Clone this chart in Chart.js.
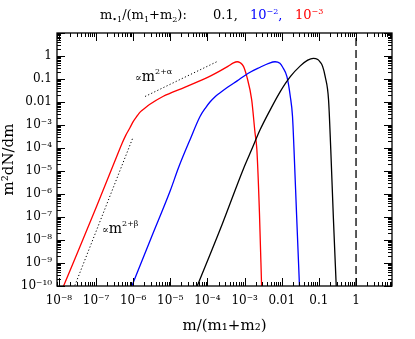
<!DOCTYPE html>
<html>
<head>
<meta charset="utf-8">
<script src="https://cdn.jsdelivr.net/npm/chart.js@4/dist/chart.umd.min.js"></script>
<style>
  body { margin: 0; background: #fff; }
  canvas { display: block; }
</style>
</head>
<body>
<canvas id="massChart" width="415" height="339"></canvas>
<script>
// Data: m/(m1+m2) and m^2 dN/dm
const redM = [1.26e-8, 3.16e-8, 1e-7, 3.16e-7, 5.01e-7, 6.31e-7, 8.13e-7, 1e-6, 1.26e-6, 1.58e-6, 2.09e-6, 2.82e-6,
  6.31e-6, 2.51e-5, 1.26e-4, 3.55e-4, 5.01e-4, 6.31e-4, 7.59e-4, 9.33e-4, 1.15e-3, 1.55e-3, 1.91e-3, 2.14e-3,
  2.51e-3, 2.88e-3];
const redY = [7.94e-11, 2.82e-9, 2.51e-7, 2.51e-5, 1.58e-4, 3.55e-4, 7.41e-4, 1.41e-3, 2.40e-3, 3.80e-3, 5.50e-3,
  7.94e-3, 1.74e-2, 4.47e-2, 0.141, 0.355, 0.501, 0.562, 0.513, 0.355, 0.126, 0.0126, 4.47e-4, 8.51e-5,
  1.58e-7, 7.94e-11];

const blueM = [8.71e-7, 3.16e-6, 1e-5, 1.66e-5, 3.39e-5, 6.31e-5, 8.91e-5, 1.17e-4, 1.58e-4, 2.19e-4, 3.55e-4,
  6.31e-4, 1.26e-3, 2.63e-3, 4.47e-3, 6.61e-3, 8.91e-3, 1.07e-2, 1.38e-2, 1.70e-2, 1.95e-2, 2.14e-2, 2.51e-2,
  3.02e-2];
const blueY = [7.94e-11, 1.41e-8, 1.41e-6, 1.38e-5, 2.29e-4, 2.34e-3, 5.62e-3, 1.0e-2, 1.66e-2, 2.51e-2, 4.47e-2,
  8.32e-2, 0.178, 0.324, 0.479, 0.562, 0.479, 0.316, 0.126, 1.74e-2, 2.34e-3, 8.51e-5, 1.26e-7, 7.94e-11];

const blackM = [5.01e-5, 2.51e-4, 9.33e-4, 1.55e-3, 2.63e-3, 4.90e-3, 9.12e-3, 1.70e-2, 3.16e-2, 5.01e-2, 7.08e-2,
  9.33e-2, 0.107, 0.126, 0.148, 0.182, 0.209, 0.245, 0.295];
const blackY = [7.94e-11, 5.01e-8, 1.26e-5, 8.51e-5, 6.31e-4, 4.57e-3, 2.82e-2, 0.126, 0.372, 0.661, 0.794,
  0.708, 0.562, 0.355, 0.126, 1.26e-2, 8.51e-5, 1e-7, 7.94e-11];

// power-law guide lines
const alphaM = [2.09e-6, 1.78e-4];
const alphaY = [1.74e-2, 0.562];
const betaM = [2.69e-8, 9.77e-7];
const betaY = [1.05e-10, 2.75e-4];

// m = m1 + m2 marker
const limitM = [1, 1];
const limitY = [1e-10, 10];

const xTickValues = [1e-8, 1e-7, 1e-6, 1e-5, 1e-4, 1e-3, 1e-2, 0.1, 1];
const xTickLabels = ['10⁻⁸', '10⁻⁷', '10⁻⁶', '10⁻⁵', '10⁻⁴', '10⁻³', '0.01', '0.1', '1'];
const yTickValues = [1e-10, 1e-9, 1e-8, 1e-7, 1e-6, 1e-5, 1e-4, 1e-3, 1e-2, 0.1, 1];
const yTickLabels = ['10⁻¹⁰', '10⁻⁹', '10⁻⁸', '10⁻⁷', '10⁻⁶', '10⁻⁵', '10⁻⁴', '10⁻³', '0.01', '0.1', '1'];

const SERIF = "'DejaVu Serif', serif";

function pts(xs, ys) {
    return xs.map((x, i) => ({ x: x, y: ys[i] }));
}

function curve(xs, ys, color) {
    return { data: pts(xs, ys), borderColor: color, borderWidth: 1.3, pointRadius: 0,
             cubicInterpolationMode: 'monotone', fill: false };
}

function guide(xs, ys) {
    return { data: pts(xs, ys), borderColor: '#000', borderWidth: 1, borderDash: [1.2, 2.2],
             pointRadius: 0, fill: false };
}

// draw inward ticks on all four sides plus the frame
const frameTicks = {
    id: 'frameTicks',
    afterDraw(chart) {
        const { ctx, chartArea: a, scales: { x, y } } = chart;
        ctx.save();
        ctx.strokeStyle = '#000';
        ctx.lineWidth = 1;
        ctx.beginPath();
        for (let d = -11; d <= 1; d++) {
            for (let k = 1; k < 10; k++) {
                const v = k * Math.pow(10, d);
                const len = k === 1 ? 8 : 4;
                if (v >= x.min && v <= x.max) {
                    const px = Math.round(x.getPixelForValue(v)) + 0.5;
                    ctx.moveTo(px, a.bottom); ctx.lineTo(px, a.bottom - len);
                    ctx.moveTo(px, a.top); ctx.lineTo(px, a.top + len);
                }
                if (v >= y.min && v <= y.max) {
                    const py = Math.round(y.getPixelForValue(v)) + 0.5;
                    ctx.moveTo(a.left, py); ctx.lineTo(a.left + len, py);
                    ctx.moveTo(a.right, py); ctx.lineTo(a.right - len, py);
                }
            }
        }
        ctx.stroke();
        ctx.lineWidth = 1.3;
        ctx.strokeRect(a.left, a.top, a.right - a.left, a.bottom - a.top);
        ctx.restore();
    }
};

// write a run of text pieces: [text, size, dy, color]
function writeRuns(ctx, x, y, runs) {
    runs.forEach(r => {
        ctx.font = r[1] + 'px ' + SERIF;
        ctx.fillStyle = r[3] || '#000';
        ctx.fillText(r[0], x, y + r[2]);
        x += ctx.measureText(r[0]).width;
    });
}

const labels = {
    id: 'labels',
    afterDraw(chart) {
        const { ctx, scales: { x, y } } = chart;
        ctx.save();
        ctx.textBaseline = 'alphabetic';
        ctx.textAlign = 'left';
        // header
        writeRuns(ctx, 100, 19, [['m', 13, 0], ['•1', 8, 3], ['/(m', 13, 0], ['1', 8, 3],
            ['+m', 13, 0], ['2', 8, 3], ['):', 13, 0]]);
        writeRuns(ctx, 213, 19, [['0.1,', 13, 0]]);
        writeRuns(ctx, 250, 19, [['10', 13, 0, '#0000ff'], ['−2', 8, -5, '#0000ff'], [',', 13, 0, '#0000ff']]);
        writeRuns(ctx, 295, 19, [['10', 13, 0, '#ff0000'], ['−3', 8, -5, '#ff0000']]);
        // slope annotations
        writeRuns(ctx, x.getPixelForValue(1.12e-6), y.getPixelForValue(0.078),
            [['∝', 10, 0], ['m', 14, 0], ['2+α', 8, -7]]);
        writeRuns(ctx, x.getPixelForValue(1.45e-7), y.getPixelForValue(1.95e-8),
            [['∝', 10, 0], ['m', 14, 0], ['2+β', 8, -7]]);
        ctx.restore();
    }
};

const ctx = document.getElementById('massChart').getContext('2d');
const massChart = new Chart(ctx, {
    type: 'line',
    data: {
        datasets: [
            curve(blackM, blackY, '#000000'),
            curve(blueM, blueY, '#0000ff'),
            curve(redM, redY, '#ff0000'),
            guide(alphaM, alphaY),
            guide(betaM, betaY),
            { data: pts(limitM, limitY), borderColor: '#000', borderWidth: 1.3, borderDash: [8, 4],
              pointRadius: 0, fill: false }
        ]
    },
    options: {
        responsive: false,
        animation: false,
        devicePixelRatio: 1,
        layout: { padding: { top: 33, right: 23, left: 0, bottom: 0 } },
        plugins: { legend: { display: false }, tooltip: { enabled: false }, title: { display: false } },
        scales: {
            x: {
                type: 'logarithmic',
                min: 8.9e-9, max: 9.3,
                grid: { display: false, drawTicks: false },
                border: { display: false },
                afterBuildTicks: s => { s.ticks = xTickValues.map(v => ({ value: v })); },
                afterFit: s => { s.height = 53; },
                ticks: {
                    autoSkip: false, maxRotation: 0, padding: 8, color: '#000',
                    font: { family: SERIF, size: 12 },
                    callback: (v, i) => xTickLabels[i]
                },
                title: { display: true, text: 'm/(m₁+m₂)', color: '#000', padding: { top: 2 },
                         font: { family: SERIF, size: 15 } }
            },
            y: {
                type: 'logarithmic',
                min: 1e-10, max: 10,
                grid: { display: false, drawTicks: false },
                border: { display: false },
                afterBuildTicks: s => { s.ticks = yTickValues.map(v => ({ value: v })); },
                afterFit: s => { s.width = 57; },
                ticks: {
                    autoSkip: false, padding: 5, color: '#000',
                    font: { family: SERIF, size: 12 },
                    callback: (v, i) => yTickLabels[i]
                },
                title: { display: true, text: 'm²dN/dm', color: '#000', padding: { top: 0, bottom: 2 },
                         font: { family: SERIF, size: 15 } }
            }
        }
    },
    plugins: [frameTicks, labels]
});
</script>
</body>
</html>
